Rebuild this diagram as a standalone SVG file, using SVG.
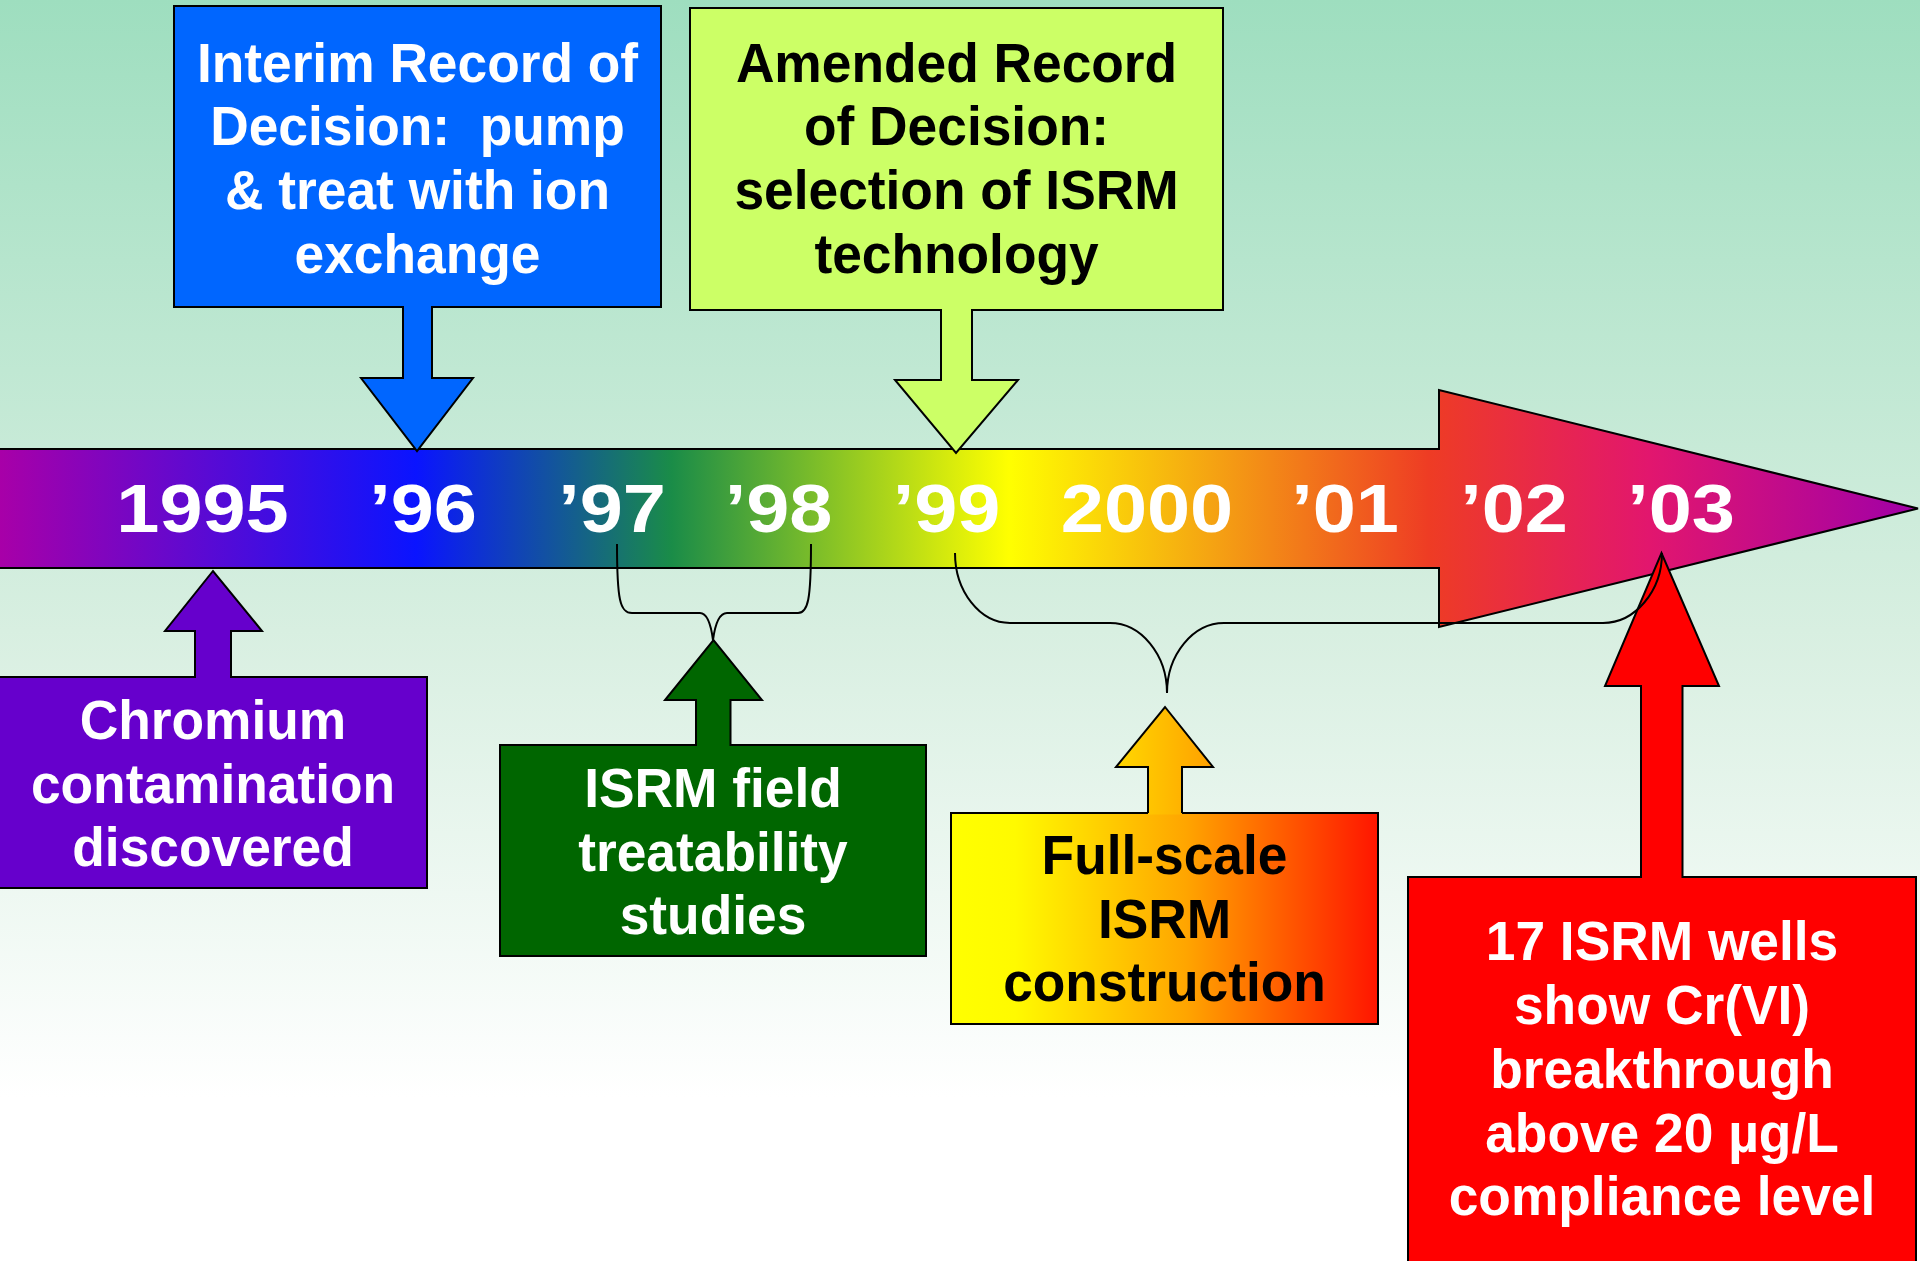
<svg xmlns="http://www.w3.org/2000/svg" width="1920" height="1261" viewBox="0 0 1920 1261">
  <defs>
    <linearGradient id="bg" x1="0" y1="0" x2="0" y2="1261" gradientUnits="userSpaceOnUse">
      <stop offset="0" stop-color="#9EDEBF"/>
      <stop offset="0.5" stop-color="#D8EFE1"/>
      <stop offset="0.87" stop-color="#FFFFFF"/>
      <stop offset="1" stop-color="#FFFFFF"/>
    </linearGradient>
    <linearGradient id="spectrum" x1="0" y1="0" x2="1918" y2="0" gradientUnits="userSpaceOnUse">
      <stop offset="0" stop-color="#A800A8"/>
      <stop offset="0.217" stop-color="#0A14FF"/>
      <stop offset="0.35" stop-color="#1A8C48"/>
      <stop offset="0.526" stop-color="#FFFF00"/>
      <stop offset="0.63" stop-color="#F5A512"/>
      <stop offset="0.745" stop-color="#EE3C24"/>
      <stop offset="0.86" stop-color="#E2166E"/>
      <stop offset="1" stop-color="#A000A8"/>
    </linearGradient>
    <linearGradient id="fire" x1="0" y1="0" x2="1" y2="0">
      <stop offset="0" stop-color="#FFFF00"/>
      <stop offset="0.15" stop-color="#FFFA00"/>
      <stop offset="0.55" stop-color="#FFA500"/>
      <stop offset="1" stop-color="#FF1500"/>
    </linearGradient>
    <linearGradient id="gold" x1="1116" y1="0" x2="1213" y2="0" gradientUnits="userSpaceOnUse">
      <stop offset="0" stop-color="#FFD800"/>
      <stop offset="1" stop-color="#FFA000"/>
    </linearGradient>
    <style>
      .edge { stroke: #000; stroke-width: 2; stroke-linejoin: miter; }
      .t { font-family: "Liberation Sans", Arial, Helvetica, sans-serif; font-weight: bold; font-size: 56px; text-anchor: middle; }
      .w { fill: #FFFFFF; }
      .k { fill: #000000; }
      .yr { font-family: "Liberation Sans", Arial, Helvetica, sans-serif; font-weight: bold; font-size: 68px; text-anchor: middle; fill: #FFFFFF; }
      .brace { fill: none; stroke: #000; stroke-width: 2; }
    </style>
  </defs>

  <!-- backdrop -->
  <rect x="0" y="0" width="1920" height="1261" fill="url(#bg)"/>

  <!-- timeline arrow -->
  <g id="timeline">
    <path class="edge" fill="url(#spectrum)" d="M-2,449 H1439 V390 L1918,508.5 L1439,627 V568 H-2 Z"/>
    <text class="yr" transform="translate(202.5,532) scale(1.14,1)">1995</text>
    <text class="yr" transform="translate(423,532) scale(1.14,1)">’96</text>
    <text class="yr" transform="translate(612,532) scale(1.14,1)">’97</text>
    <text class="yr" transform="translate(778.5,532) scale(1.14,1)">’98</text>
    <text class="yr" transform="translate(946.5,532) scale(1.14,1)">’99</text>
    <text class="yr" transform="translate(1147,532) scale(1.14,1)">2000</text>
    <text class="yr" transform="translate(1345,532) scale(1.14,1)">’01</text>
    <text class="yr" transform="translate(1514,532) scale(1.14,1)">’02</text>
    <text class="yr" transform="translate(1681,532) scale(1.14,1)">’03</text>
  </g>

  <!-- interim record of decision -->
  <g id="interim-rod">
    <path class="edge" fill="#0066FF" d="M174,6 H661 V307 H432 V378 H473 L417,451 L361,378 H403 V307 H174 Z"/>
    <g transform="translate(417.5,0) scale(0.952,1)">
      <text class="t w"><tspan x="0" y="81.7">Interim Record of</tspan><tspan x="0" y="145.4" xml:space="preserve">Decision:  pump</tspan><tspan x="0" y="209.1">&amp; treat with ion</tspan><tspan x="0" y="272.8">exchange</tspan></text>
    </g>
  </g>

  <!-- amended record of decision -->
  <g id="amended-rod">
    <path class="edge" fill="#CCFF66" d="M690,8 H1223 V310 H972 V380 H1018 L956,453 L895,380 H941 V310 H690 Z"/>
    <g transform="translate(956.5,0) scale(0.952,1)">
      <text class="t k"><tspan x="0" y="81.7">Amended Record</tspan><tspan x="0" y="145.4">of Decision:</tspan><tspan x="0" y="209.1">selection of ISRM</tspan><tspan x="0" y="272.8">technology</tspan></text>
    </g>
  </g>

  <!-- contamination discovered -->
  <g id="discovery">
    <path class="edge" fill="#6600CC" d="M-2,677 H195 V631 H165 L213,571 L262,631 H231 V677 H427 V888 H-2 Z"/>
    <g transform="translate(213,0) scale(0.952,1)">
      <text class="t w"><tspan x="0" y="739">Chromium</tspan><tspan x="0" y="802.7">contamination</tspan><tspan x="0" y="866.4">discovered</tspan></text>
    </g>
  </g>

  <!-- field treatability studies -->
  <g id="treatability">
    <path class="edge" fill="#006600" d="M500,745 H696 V700 H665 L713.5,640 L762,700 H730.5 V745 H926 V956 H500 Z"/>
    <g transform="translate(713,0) scale(0.952,1)">
      <text class="t w"><tspan x="0" y="807">ISRM field</tspan><tspan x="0" y="870.7">treatability</tspan><tspan x="0" y="934.4">studies</tspan></text>
    </g>
  </g>

  <!-- full-scale construction -->
  <g id="construction">
    <rect class="edge" x="951" y="813" width="427" height="211" fill="url(#fire)"/>
    <path fill="url(#gold)" d="M1148,814.5 V767 H1116 L1165,707 L1213,767 H1182 V814.5 Z"/>
    <path class="edge" fill="none" d="M1148,813 V767 H1116 L1165,707 L1213,767 H1182 V813"/>
    <g transform="translate(1164.5,0) scale(0.952,1)">
      <text class="t k"><tspan x="0" y="874">Full-scale</tspan><tspan x="0" y="937.7">ISRM</tspan><tspan x="0" y="1001.4">construction</tspan></text>
    </g>
  </g>

  <!-- Cr(VI) breakthrough -->
  <g id="breakthrough">
    <path class="edge" fill="#FF0000" d="M1408,877 H1641 V686 H1605 L1661.5,553 L1719,686 H1682.5 V877 H1916 V1266 H1408 Z"/>
    <g transform="translate(1662,0) scale(0.952,1)">
      <text class="t w"><tspan x="0" y="960.5">17 ISRM wells</tspan><tspan x="0" y="1024.2">show Cr(VI)</tspan><tspan x="0" y="1087.9">breakthrough</tspan><tspan x="0" y="1151.6">above 20 µg/L</tspan><tspan x="0" y="1215.3">compliance level</tspan></text>
    </g>
  </g>

  <!-- braces spanning multi-year activities -->
  <g id="connectors">
    <path class="brace" d="M617,544 C617,600 620,613 632,613 L700,613 C707,613 711,625 713,640 C715,625 719,613 727,613 L798,613 C808,613 811,600 811,544"/>
    <path class="brace" d="M955,553 C955,591.5 980,623 1010,623 L1110,623 C1141,623 1167,654.5 1167,693 C1167,654.5 1193,623 1224,623 L1603,623 C1635,623 1662,591 1662,553"/>
  </g>
</svg>
